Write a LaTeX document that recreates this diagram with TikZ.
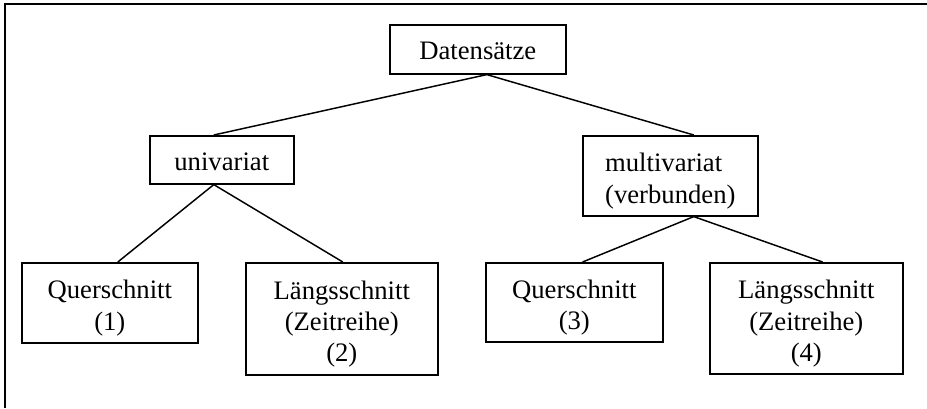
\documentclass[tikz,border=0pt]{standalone}
\usepackage{fontspec}
\setmainfont{Liberation Serif}
\newcommand{\stuetze}{\rule[-6pt]{0pt}{27.8pt}}

\begin{document}
\begin{tikzpicture}[x=0.75pt, y=-0.75pt,
  every node/.style={draw=black, line width=1.2pt, inner sep=0pt, align=center,
    anchor=north west, font=\fontsize{20}{23.5}\selectfont},
  kante/.style={line width=1.1pt}]
  \useasboundingbox (0,0) rectangle (927,408);
  \draw[line width=1.6pt] (5,408) |- (927,4);
  \node (daten) [minimum width=132pt, minimum height=36.75pt] at (389,24) {\stuetze Datensätze};
  \node (uni) [minimum width=108pt, minimum height=36pt] at (149,135) {\stuetze univariat};
  \node (multi) [minimum width=131.25pt, minimum height=60pt, align=left] at (582,135) {\stuetze multivariat\\(verbunden)};
  \node (quer1) [minimum width=132pt, minimum height=60pt] at (21,262) {\stuetze Querschnitt\\(1)};
  \node (laengs2) [minimum width=144pt, minimum height=84pt] at (245,262) {\stuetze Längsschnitt\\(Zeitreihe)\\(2)};
  \node (quer3) [minimum width=132.75pt, minimum height=59.25pt] at (485,262) {\stuetze Querschnitt\\(3)};
  \node (laengs4) [minimum width=144.75pt, minimum height=83.25pt] at (709,262) {\stuetze Längsschnitt\\(Zeitreihe)\\(4)};
  \draw[kante] ([xshift=6.75pt]daten.south) -- ([xshift=-6pt]uni.north);
  \draw[kante] ([xshift=6.75pt]daten.south) -- ([xshift=17.6pt]multi.north);
  \draw[kante] ([xshift=-6pt]uni.south) -- ([xshift=6pt]quer1.north);
  \draw[kante] ([xshift=-6pt]uni.south) -- ([xshift=0.75pt]laengs2.north);
  \draw[kante] ([xshift=17.6pt]multi.south) -- ([xshift=6.2pt]quer3.north);
  \draw[kante] ([xshift=17.6pt]multi.south) -- ([xshift=12.2pt]laengs4.north);
\end{tikzpicture}
\end{document}
